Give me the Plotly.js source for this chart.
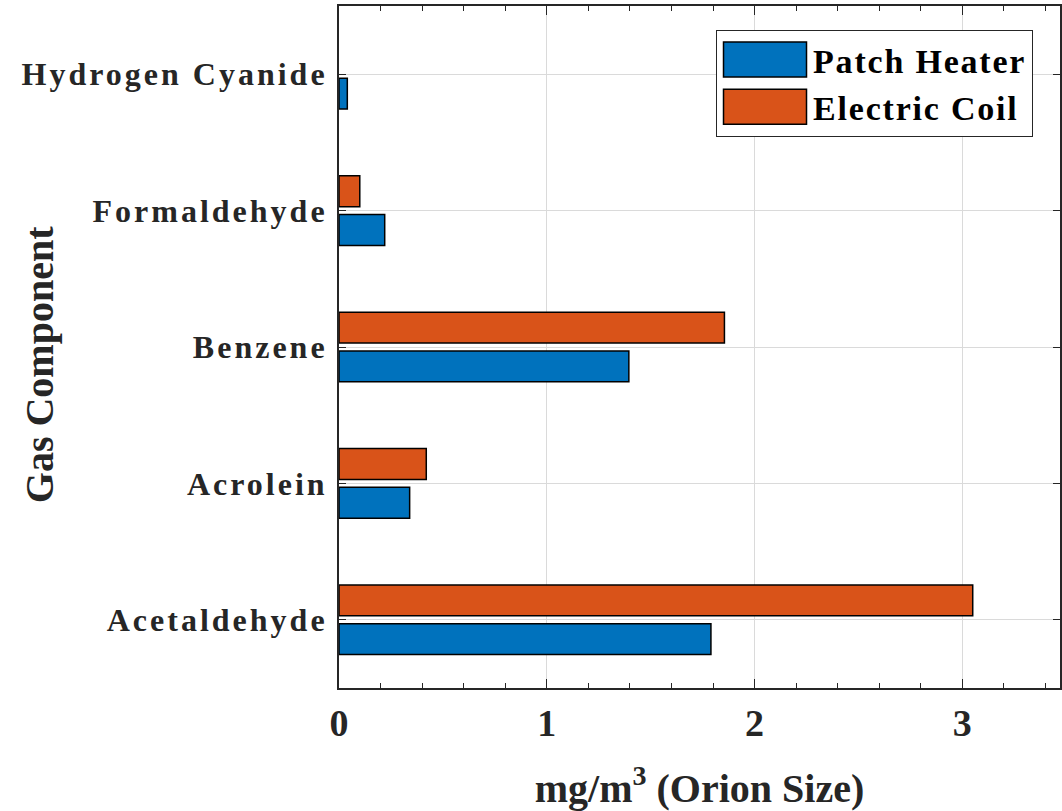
<!DOCTYPE html>
<html>
<head>
<meta charset="utf-8">
<script src="https://cdn.plot.ly/plotly-3.0.1.min.js"></script>
<style>
  html, body { margin: 0; padding: 0; background: #ffffff; }
  #chart { width: 1062px; height: 811px; }
  .yaxislayer-above .ytick text { letter-spacing: 3px; }
  .legendtext { letter-spacing: 1.8px; }
</style>
</head>
<body>
<div id="chart"></div>
<script>
// ---- data ----
const categories = ['Acetaldehyde', 'Acrolein', 'Benzene', 'Formaldehyde', 'Hydrogen Cyanide'];
const patchHeater = [1.79, 0.34, 1.395, 0.22, 0.04];
const electricCoil = [3.05, 0.42, 1.855, 0.10, 0];
const seriesNames = ['Patch Heater', 'Electric Coil'];
const xTickVals = [0, 1, 2, 3];
const xTickText = ['0', '1', '2', '3'];

const FONT = 'Liberation Serif, Times New Roman, serif';
const AXIS = '#262626';

const data = [
  {
    type: 'bar', orientation: 'h', name: seriesNames[0],
    y: categories, x: patchHeater,
    marker: { color: '#0072BD', line: { color: '#000000', width: 1.5 } }
  },
  {
    type: 'bar', orientation: 'h', name: seriesNames[1],
    y: categories, x: electricCoil,
    marker: { color: '#D95319', line: { color: '#000000', width: electricCoil.map(v => v > 0 ? 1.5 : 0) } }
  }
];

const layout = {
  width: 1062, height: 811,
  margin: { l: 339, r: 2, t: 6, b: 123 },
  paper_bgcolor: '#ffffff', plot_bgcolor: '#ffffff',
  barmode: 'group', bargap: 0.432, bargroupgap: 0.204,
  font: { family: FONT, color: '#262626', weight: 'bold' },
  showlegend: true,
  legend: {
    x: 0.5229, y: 0.9648, xanchor: 'left', yanchor: 'top',
    bgcolor: '#ffffff', bordercolor: AXIS, borderwidth: 1,
    font: { family: FONT, size: 34, color: '#000000', weight: 'bold' },
    itemwidth: 86, traceorder: 'normal', tracegroupgap: 0
  },
  xaxis: {
    range: [0, 3.47], tickvals: xTickVals, ticktext: xTickText,
    ticks: 'inside', ticklen: 9, tickwidth: 1.2, tickcolor: AXIS,
    minor: { dtick: 0.2, ticks: 'inside', ticklen: 5, tickwidth: 1, tickcolor: AXIS, showgrid: false },
    showline: true, linecolor: AXIS, linewidth: 2, mirror: 'ticks',
    showgrid: true, gridcolor: '#dadada', gridwidth: 1,
    zeroline: false,
    tickfont: { family: FONT, size: 38, color: '#262626', weight: 'bold' },
    ticklabelstandoff: 0,
    title: { text: 'mg/m<sup>3</sup> (Orion Size)', font: { family: FONT, size: 40, color: '#262626', weight: 'bold' }, standoff: 41 },
    fixedrange: true
  },
  yaxis: {
    type: 'category', categoryorder: 'array', categoryarray: categories,
    range: [-0.5, 4.5],
    ticks: 'inside', ticklen: 7, tickwidth: 1.2, tickcolor: AXIS,
    showline: true, linecolor: AXIS, linewidth: 2, mirror: 'ticks',
    showgrid: true, gridcolor: '#dadada', gridwidth: 1,
    zeroline: false,
    tickfont: { family: FONT, size: 32, color: '#262626', weight: 'bold' },
    ticklabelstandoff: 3,
    fixedrange: true
  },
  annotations: [{
    text: 'Gas Component', textangle: -90,
    xref: 'paper', yref: 'paper', x: -0.4154, y: 0.474,
    xanchor: 'center', yanchor: 'middle', showarrow: false,
    font: { family: FONT, size: 40, color: '#262626', weight: 'bold' }
  }]
};

function widenSwatches(gd) {
  gd.querySelectorAll('.legend .legendpoints path').forEach(function (p) {
    p.setAttribute('d', 'M-41.5,-17.5H41.5V17.5H-41.5Z');
  });
}

Plotly.newPlot('chart', data, layout, { displayModeBar: false, responsive: false }).then(function (gd) {
  widenSwatches(gd);
  gd.on('plotly_afterplot', function () { widenSwatches(gd); });
});
</script>
</body>
</html>
